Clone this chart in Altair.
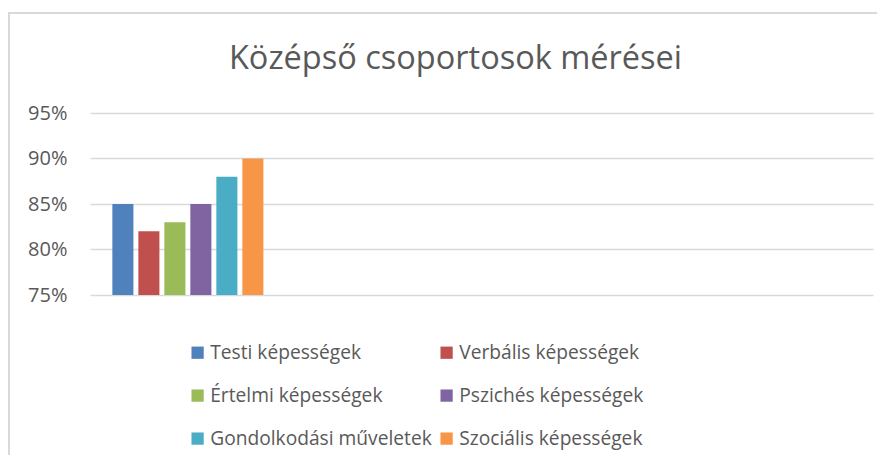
import altair as alt
import pandas as pd

# Data
series = [
    "Testi képességek",
    "Verbális képességek",
    "Értelmi képességek",
    "Pszichés képességek",
    "Gondolkodási műveletek",
    "Szociális képességek",
]
values = [0.85, 0.82, 0.83, 0.85, 0.88, 0.90]
categories = ["1", "2", "3", "4"]
colors = ["#4F81BD", "#C0504D", "#9BBB59", "#8064A2", "#4BACC6", "#F79646"]
y_ticks = [0.75, 0.80, 0.85, 0.90, 0.95]

df = pd.DataFrame({"cat": [categories[0]] * len(series), "series": series, "value": values})

FONT = "Open Sans"
TXT = "#595959"

W, H = 783, 182

bars = alt.Chart(df).mark_bar().encode(
    x=alt.X("cat:N", scale=alt.Scale(domain=categories, paddingInner=0, paddingOuter=0), axis=None),
    xOffset=alt.XOffset("series:N", scale=alt.Scale(domain=series, paddingInner=0.19, paddingOuter=0.86)),
    y=alt.Y(
        "value:Q",
        scale=alt.Scale(domain=[0.75, 0.95], zero=False, nice=False),
        axis=alt.Axis(
            values=y_ticks, format=".0%", title=None, ticks=False, domain=False,
            grid=True, gridColor="#d9d9d9", gridWidth=1.3,
            labelFont=FONT, labelFontSize=20, labelColor=TXT, labelPadding=23,
        ),
    ),
    y2=alt.datum(0.75),
    color=alt.Color(
        "series:N",
        scale=alt.Scale(domain=series, range=colors),
        legend=alt.Legend(
            title=None, orient="none", legendX=98, legendY=230, columns=2,
            direction="horizontal",
            symbolType="square", symbolSize=150, symbolStrokeWidth=0, symbolOpacity=1,
            labelFont=FONT, labelFontSize=19.2, labelColor=TXT, labelOffset=3,
            rowPadding=23, columnPadding=5, labelLimit=400,
        ),
    ),
)

frame = alt.Chart(df).mark_rect(fill=None, stroke="#d9d9d9", strokeWidth=1.3).encode(
    x=alt.value(-81), x2=alt.value(W + 40), y=alt.value(-100), y2=alt.value(H + 200)
)

chart = alt.layer(frame, bars).properties(
    width=W, height=H,
    autosize=alt.AutoSizeParams(type="none"),
    padding={"left": 82, "top": 105, "right": 4, "bottom": 160},
    title=alt.Title(
        "Középső csoportosok mérései", font=FONT, fontSize=32.5, fontWeight="normal",
        color=TXT, anchor="middle", dx=-26, offset=-63,
    ),
).configure_view(stroke=None)

chart.save("out.html", embed_options={"renderer": "svg", "actions": False})
